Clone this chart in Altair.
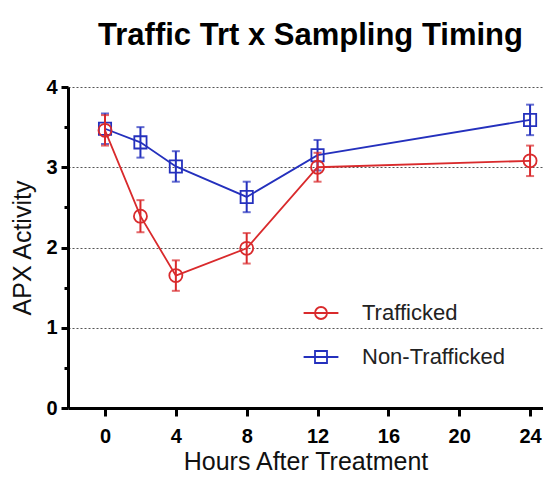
import altair as alt
import pandas as pd

hours = [0, 2, 4, 8, 12, 24]
series_names = ["Trafficked", "Non-Trafficked"]
trafficked = [3.46, 2.39, 1.65, 1.99, 3.00, 3.08]
trafficked_err = [0.19, 0.20, 0.19, 0.19, 0.18, 0.19]
non_trafficked = [3.48, 3.31, 3.01, 2.63, 3.15, 3.59]
non_trafficked_err = [0.19, 0.19, 0.19, 0.19, 0.19, 0.19]
x_tick_values = [0, 2, 4, 6, 8, 10, 12, 14, 16, 18, 20, 22, 24]
y_tick_values = [0, 0.5, 1, 1.5, 2, 2.5, 3, 3.5, 4]

RED = "#d92a2c"
BLUE = "#2430bd"
FONT = "Liberation Sans"

rows = []
for name, vals, errs in [("Non-Trafficked", non_trafficked, non_trafficked_err),
                         ("Trafficked", trafficked, trafficked_err)]:
    for h, v, e in zip(hours, vals, errs):
        rows.append({"series": name, "hours": h, "value": v, "err": e})
df = pd.DataFrame(rows)

x_axis = alt.Axis(
    values=x_tick_values,
    labelExpr="datum.value % 4 === 0 ? datum.label : ''",
    tickSize={"condition": {"test": "datum.value % 4 === 0", "value": 8}, "value": 5},
    title="Hours After Treatment",
    grid=False,
    labelPadding=10,
    titlePadding=3,
)
y_axis = alt.Axis(
    values=y_tick_values,
    labelExpr="datum.value % 1 === 0 ? '' + datum.value : ''",
    tickSize={"condition": {"test": "datum.value % 1 === 0", "value": 7}, "value": 4},
    title="APX Activity",
    grid=True,
    gridDash=[2, 2],
    gridColor="#555555",
    gridWidth=1,
    gridOpacity={"condition": {"test": "datum.value % 1 === 0 && datum.value > 0", "value": 1}, "value": 0},
    labelPadding=4,
    titlePadding=10,
)

X = alt.X("hours:Q", scale=alt.Scale(domain=[-2.09, 24.73], nice=False, zero=False), axis=x_axis)
Y = alt.Y("value:Q", scale=alt.Scale(domain=[0, 4], nice=False), axis=y_axis)

base = alt.Chart(df).transform_calculate(
    lo="datum.value - datum.err", hi="datum.value + datum.err"
)


def series_layers(name, color, shape, size):
    b = base.transform_filter(alt.datum.series == name)
    line = b.mark_line(color=color, strokeWidth=1.8).encode(x=X, y=Y)
    rule = b.mark_rule(color=color, strokeWidth=2).encode(
        x=alt.X("hours:Q"), y=alt.Y("lo:Q"), y2="hi:Q")
    cap_lo = b.mark_tick(color=color, thickness=2, size=8, orient="horizontal").encode(
        x=alt.X("hours:Q"), y=alt.Y("lo:Q"))
    cap_hi = b.mark_tick(color=color, thickness=2, size=8, orient="horizontal").encode(
        x=alt.X("hours:Q"), y=alt.Y("hi:Q"))
    pts = b.mark_point(color=color, shape=shape, size=size, filled=False,
                       strokeWidth=1.8, opacity=1).encode(x=X, y=Y)
    return [line, rule, cap_lo, cap_hi, pts]


circle_path = "M-2.9,0H2.9M1,0A1,1,0,1,1,-1,0A1,1,0,1,1,1,0"
square_path = "M-2.9,0H2.9M-1,-1H1V1H-1Z"

legend = alt.Legend(
    title=None, orient="none", legendX=242, legendY=215,
    labelFont=FONT, labelFontSize=22, labelColor="#222222",
    symbolSize=144, symbolStrokeWidth=1.8, symbolOpacity=1,
    labelOffset=30, rowPadding=22,
)
legend_layer = base.mark_point(opacity=0, filled=False, size=144).encode(
    x=X, y=Y,
    color=alt.Color("series:N", scale=alt.Scale(domain=series_names, range=[RED, BLUE]), legend=legend),
    shape=alt.Shape("series:N", scale=alt.Scale(domain=series_names, range=[circle_path, square_path]), legend=legend),
)

layers = series_layers("Non-Trafficked", BLUE, "square", 150) + \
    series_layers("Trafficked", RED, "circle", 170) + [legend_layer]

chart = alt.layer(*layers).properties(
    width=475, height=321,
    autosize=alt.AutoSizeParams(type="none"),
    padding={"left": 60, "top": 79, "right": 0, "bottom": 67},
    title=alt.TitleParams("Traffic Trt x Sampling Timing", fontSize=31, font=FONT,
                          fontWeight="bold", anchor="middle", frame="group", offset=1,
                          baseline="alphabetic", dx=5, color="#000000"),
).configure_axis(
    domainColor="#000000", domainWidth=3, tickColor="#000000", tickWidth=3,
    labelFont=FONT, labelFontSize=20, labelFontWeight="bold", labelColor="#000000",
    titleFont=FONT, titleFontSize=25, titleFontWeight="normal",
    titleColor="#111111",
).configure_view(stroke=None)

chart.save("out.html", embed_options={"renderer": "svg", "actions": False})
